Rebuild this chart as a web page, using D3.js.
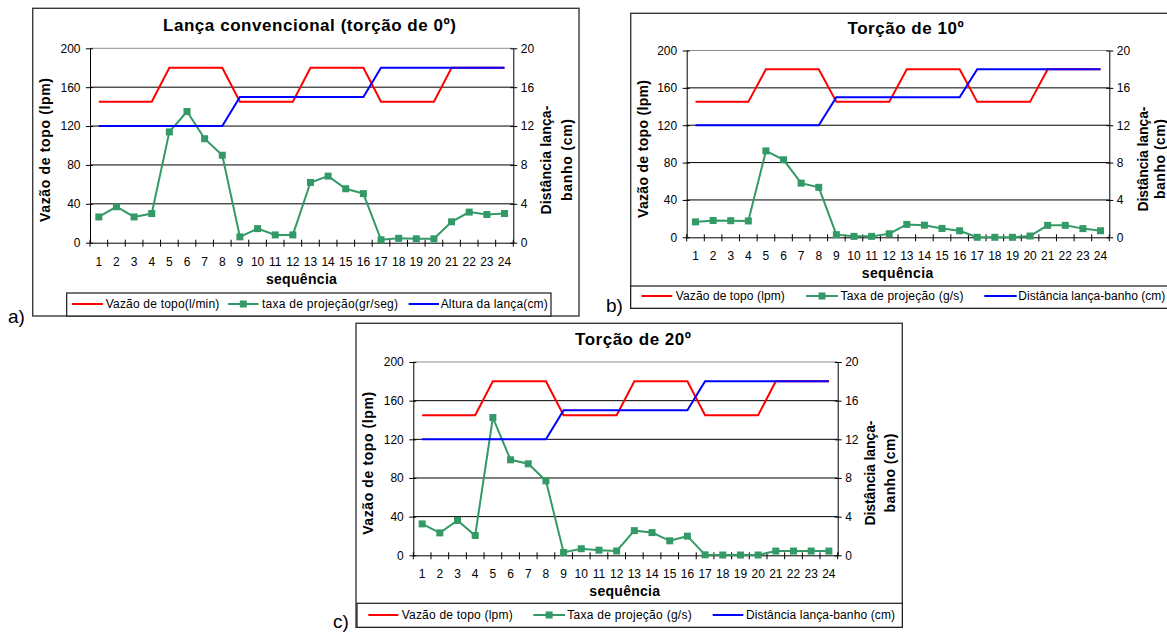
<!DOCTYPE html>
<html>
<head>
<meta charset="utf-8">
<script src="https://cdn.jsdelivr.net/npm/d3@7"></script>
<style>
  html, body { margin: 0; padding: 0; background: #fff; }
  svg { display: block; font-family: "Liberation Sans", Arial, sans-serif; }
</style>
</head>
<body>
<svg id="fig" width="1167" height="632"></svg>
<script>
// ---- data -----------------------------------------------------------
const sequencia = [1, 2, 3, 4, 5, 6, 7, 8, 9, 10, 11, 12, 13, 14, 15, 16, 17, 18, 19, 20, 21, 22, 23, 24];

// top flow rate (lpm), left axis
const vazaoTopo = [145, 145, 145, 145, 180, 180, 180, 180, 145, 145, 145, 145,
                   180, 180, 180, 180, 145, 145, 145, 145, 180, 180, 180, 180];

// boom-to-bath distance (cm), right axis
const distancia = [12, 12, 12, 12, 12, 12, 12, 12, 15, 15, 15, 15,
                   15, 15, 15, 15, 18, 18, 18, 18, 18, 18, 18, 18];

// projection rate, left axis scale
const taxaConvencional = [26.5, 37, 26.5, 30, 114, 135, 107, 90, 6, 14.5, 8, 8,
                          62, 68.5, 55.5, 50.5, 3, 4.5, 4, 4, 21.5, 31.5, 29, 30];
const taxaTorcao10 = [16.5, 18, 17.8, 17.5, 92.5, 83, 58, 53.5, 2.8, 1, 1, 3.8,
                      13.8, 13, 9.5, 7, 0, 0, 0, 1.4, 12.8, 12.8, 9.3, 7];
const taxaTorcao20 = [32.5, 23.2, 36, 20.5, 142.5, 98.8, 94.7, 77, 3, 6.8, 5.3, 4.5,
                      25.5, 23.5, 15, 19.8, 0.5, 0.3, 0.3, 0.3, 4.4, 4.4, 4.4, 4.4];

const ticksVazao = [0, 40, 80, 120, 160, 200];
const ticksDistancia = [0, 4, 8, 12, 16, 20];

const titulos = ["Lança convencional (torção de 0º)", "Torção de 10º", "Torção de 20º"];
const legendaA = ["Vazão de topo(l/min)", "taxa de projeção(gr/seg)", "Altura da lança(cm)"];
const legendaBC = ["Vazão de topo (lpm)", "Taxa de projeção (g/s)", "Distância lança-banho (cm)"];
const rotulos = ["a)", "b)", "c)"];
const tituloEsq = "Vazão de topo (lpm)";
const tituloDir = ["Distância lança-", "banho (cm)"];
const tituloX = "sequência";

// ---- styling ---------------------------------------------------------
const COR_VAZAO = "#ff0000";
const COR_TAXA = "#339966";
const COR_DIST = "#0000ff";
const FONT = "'Liberation Sans', Arial, sans-serif";

const svg = d3.select("#fig");

// ---- layout of the three charts --------------------------------------
const paineis = [
  {
    titulo: titulos[0], taxa: taxaConvencional, legenda: legendaA, rotulo: rotulos[0],
    box: [32.7, 8.3, 579, 316],
    plot: [90, 513.3, 48.3, 242.7],
    title: [309.5, 25, 293],
    left: [45, 150, 144],
    right: [546, 567.5, 160, 109, 82],
    xlab: 14.4, xtitle: [301.4, 279, 71],
    leg: { box: [66.7, 293, 551, 316], cy: 304,
           items: [[72, 103, 105.7, 113.6], [228, 258.6, 262, 136], [408.6, 439, 440.7, 107]] },
    tag: [8, 323]
  },
  {
    titulo: titulos[1], taxa: taxaTorcao10, legenda: legendaBC, rotulo: rotulos[1],
    box: [630.7, 13.3, 1180, 308.3],
    plot: [686.7, 1109.3, 50.5, 237.3],
    title: [905.6, 28, 116],
    left: [642.7, 149, 138],
    right: [1143, 1160, 159, 105, 80],
    xlab: 13.8, xtitle: [897.5, 273.3, 71.6],
    leg: { box: [630.7, 286, 1180, 308.3], cy: 296,
           items: [[641.6, 672.3, 675.8, 109], [806, 838, 840.5, 123], [984.3, 1016.7, 1018.3, 147]] },
    tag: [606, 312]
  },
  {
    titulo: titulos[2], taxa: taxaTorcao20, legenda: legendaBC, rotulo: rotulos[2],
    box: [356, 323.3, 902.3, 627.3],
    plot: [413.3, 837.7, 362, 555.3],
    title: [633, 339.3, 116],
    left: [368.3, 463.3, 143],
    right: [870, 890, 473, 105, 79],
    xlab: 13.8, xtitle: [624.7, 590.7, 70.7],
    leg: { box: [357, 603.3, 902.3, 627.3], cy: 615,
           items: [[368.3, 398.3, 401.7, 111], [533.3, 565, 567.3, 124.4], [712.7, 743.3, 746, 149]] },
    tag: [333, 627.5]
  }
];

function desenhaPainel(p) {
  const g = svg.append("g");
  const [px0, px1, pyTop, pyBot] = p.plot;

  // chart frame
  g.append("rect")
    .attr("x", p.box[0]).attr("y", p.box[1])
    .attr("width", p.box[2] - p.box[0]).attr("height", p.box[3] - p.box[1])
    .attr("fill", "#fff").attr("stroke", "#3a3a3a").attr("stroke-width", 1.4);

  const x = d3.scaleBand().domain(sequencia).range([px0, px1]);
  const cx = d => x(d) + x.bandwidth() / 2;
  const yL = d3.scaleLinear().domain([0, 200]).range([pyBot, pyTop]);
  const yR = d3.scaleLinear().domain([0, 20]).range([pyBot, pyTop]);

  // horizontal gridlines
  g.append("g").selectAll("line")
    .data(ticksVazao.filter(v => v > 0))
    .join("line")
    .attr("x1", px0).attr("x2", px1)
    .attr("y1", d => yL(d)).attr("y2", d => yL(d))
    .attr("stroke", d => d === 200 ? "#8c8c8c" : "#000")
    .attr("stroke-width", 1);

  // left axis
  const axL = g.append("g")
    .attr("transform", `translate(${px0},0)`)
    .call(d3.axisLeft(yL).tickValues(ticksVazao).tickSize(4).tickSizeOuter(0).tickPadding(5.5));
  axL.selectAll(".tick line").attr("x1", 3);
  axL.attr("font-family", FONT).attr("font-size", 12);
  axL.selectAll("text").attr("fill", "#000");

  // right axis
  const axR = g.append("g")
    .attr("transform", `translate(${px1},0)`)
    .call(d3.axisRight(yR).tickValues(ticksDistancia).tickSize(4).tickSizeOuter(0).tickPadding(3.5));
  axR.selectAll(".tick line").attr("x1", -3);
  axR.attr("font-family", FONT).attr("font-size", 12);
  axR.selectAll("text").attr("fill", "#000");

  // bottom axis (labels centred on categories, marks on category edges)
  const axB = g.append("g")
    .attr("transform", `translate(0,${pyBot})`)
    .call(d3.axisBottom(x).tickSize(0).tickSizeOuter(0).tickPadding(p.xlab));
  axB.attr("font-family", FONT).attr("font-size", 12);
  axB.selectAll("text").attr("fill", "#000");
  const bordas = sequencia.map(d => x(d)).concat([px1]);
  g.append("g").selectAll("line")
    .data(bordas)
    .join("line")
    .attr("x1", d => d).attr("x2", d => d)
    .attr("y1", pyBot - 3).attr("y2", pyBot + 4)
    .attr("stroke", "#000");

  // series
  const linha = (escala, valores) => d3.line()
    .x((d, i) => cx(sequencia[i]))
    .y(d => escala(d))(valores);

  g.append("path").attr("d", linha(yL, vazaoTopo))
    .attr("fill", "none").attr("stroke", COR_VAZAO).attr("stroke-width", 2);

  g.append("path").attr("d", linha(yL, p.taxa))
    .attr("fill", "none").attr("stroke", COR_TAXA).attr("stroke-width", 2);
  g.append("g").selectAll("rect")
    .data(p.taxa)
    .join("rect")
    .attr("x", (d, i) => cx(sequencia[i]) - 3.5)
    .attr("y", d => yL(d) - 3.5)
    .attr("width", 7).attr("height", 7)
    .attr("fill", COR_TAXA);

  g.append("path").attr("d", linha(yR, distancia))
    .attr("fill", "none").attr("stroke", COR_DIST).attr("stroke-width", 2);

  // title
  g.append("text")
    .attr("x", p.title[0]).attr("y", p.title[1]).attr("dy", "0.35em")
    .attr("text-anchor", "middle")
    .attr("font-size", 17).attr("font-weight", "bold")
    .attr("textLength", p.title[2])
    .text(p.titulo);

  // left axis title
  g.append("text")
    .attr("transform", `translate(${p.left[0]},${p.left[1]}) rotate(-90)`)
    .attr("dy", "0.35em").attr("text-anchor", "middle")
    .attr("font-size", 14).attr("font-weight", "bold")
    .attr("textLength", p.left[2])
    .text(tituloEsq);

  // right axis title (two lines)
  g.append("text")
    .attr("transform", `translate(${p.right[0]},${p.right[2]}) rotate(-90)`)
    .attr("dy", "0.35em").attr("text-anchor", "middle")
    .attr("font-size", 14).attr("font-weight", "bold")
    .attr("textLength", p.right[3])
    .text(tituloDir[0]);
  g.append("text")
    .attr("transform", `translate(${p.right[1]},${p.right[2]}) rotate(-90)`)
    .attr("dy", "0.35em").attr("text-anchor", "middle")
    .attr("font-size", 14).attr("font-weight", "bold")
    .attr("textLength", p.right[4])
    .text(tituloDir[1]);

  // x axis title
  g.append("text")
    .attr("x", p.xtitle[0]).attr("y", p.xtitle[1]).attr("dy", "0.35em")
    .attr("text-anchor", "middle")
    .attr("font-size", 14).attr("font-weight", "bold")
    .attr("textLength", p.xtitle[2])
    .text(tituloX);

  // legend
  const L = p.leg;
  g.append("rect")
    .attr("x", L.box[0]).attr("y", L.box[1])
    .attr("width", L.box[2] - L.box[0]).attr("height", L.box[3] - L.box[1])
    .attr("fill", "#fff").attr("stroke", "#1a1a1a").attr("stroke-width", 1.2);
  const cores = [COR_VAZAO, COR_TAXA, COR_DIST];
  L.items.forEach((it, i) => {
    g.append("line")
      .attr("x1", it[0]).attr("x2", it[1]).attr("y1", L.cy).attr("y2", L.cy)
      .attr("stroke", cores[i]).attr("stroke-width", 2);
    if (i === 1) {
      g.append("rect")
        .attr("x", (it[0] + it[1]) / 2 - 3.5).attr("y", L.cy - 3.5)
        .attr("width", 7).attr("height", 7).attr("fill", cores[i]);
    }
    g.append("text")
      .attr("x", it[2]).attr("y", L.cy).attr("dy", "0.35em")
      .attr("font-size", 12)
      .attr("textLength", it[3])
      .text(p.legenda[i]);
  });

  // panel letter
  svg.append("text")
    .attr("x", p.tag[0]).attr("y", p.tag[1])
    .attr("font-size", 19)
    .text(p.rotulo);
}

paineis.forEach(desenhaPainel);
</script>
</body>
</html>
